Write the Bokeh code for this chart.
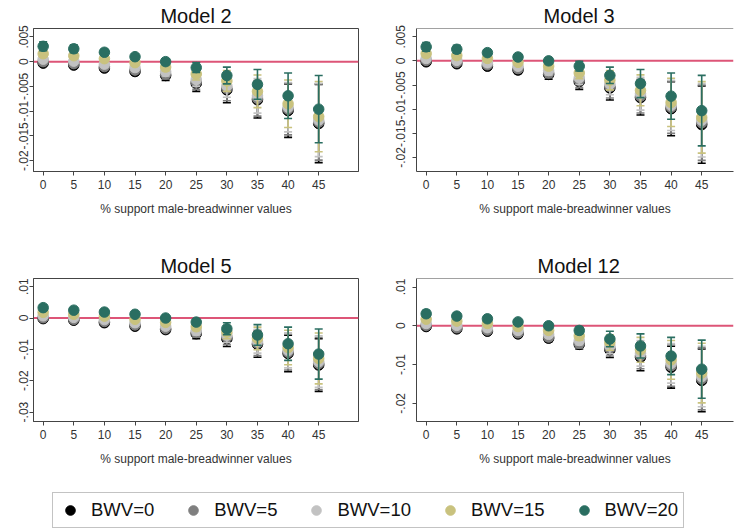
from bokeh.plotting import figure
from bokeh.layouts import column, row
from bokeh.models import Span, FixedTicker, Legend, LegendItem, ColumnDataSource, Range1d
from bokeh.embed import file_html
from bokeh.resources import INLINE

# ---------------- data ----------------
x_pct = [0, 5, 10, 15, 20, 25, 30, 35, 40, 45]
series_names = ["BWV=0", "BWV=5", "BWV=10", "BWV=15", "BWV=20"]
series_colors = ["#000000", "#7f7f7f", "#c2c2c2", "#c9c27e", "#2a6e61"]
x_label = "% support male-breadwinner values"

# Model 2 : point estimates and CI half-widths
m2_b0 = [-0.0003, -0.0007, -0.0013, -0.0020, -0.0028, -0.0044, -0.0057, -0.0077, -0.0099, -0.0125]
m2_b5 = [0.0000, -0.0004, -0.0010, -0.0017, -0.0025, -0.0041, -0.0054, -0.0074, -0.0096, -0.0122]
m2_b10 = [0.0005, 0.0001, -0.0005, -0.0012, -0.0020, -0.0036, -0.0049, -0.0069, -0.0092, -0.0118]
m2_b15 = [0.0016, 0.0012, 0.0006, -0.0002, -0.0011, -0.0025, -0.0039, -0.0060, -0.0085, -0.0111]
m2_b20 = [0.0031, 0.0026, 0.0019, 0.0010, 0.0000, -0.0012, -0.0028, -0.0046, -0.0069, -0.0096]
m2_hw0 = [0.0004, 0.0005, 0.0006, 0.0007, 0.0010, 0.0016, 0.0026, 0.0037, 0.0054, 0.0079]
m2_hw5 = [0.0004, 0.0005, 0.0006, 0.0007, 0.0010, 0.0015, 0.0025, 0.0036, 0.0052, 0.0077]
m2_hw10 = [0.0005, 0.0005, 0.0006, 0.0007, 0.0009, 0.0014, 0.0023, 0.0035, 0.0050, 0.0074]
m2_hw15 = [0.0007, 0.0006, 0.0006, 0.0006, 0.0008, 0.0012, 0.0021, 0.0033, 0.0048, 0.0071]
m2_hw20 = [0.0009, 0.0008, 0.0006, 0.0005, 0.0006, 0.0010, 0.0017, 0.0030, 0.0046, 0.0068]

# Model 3
m3_b0 = [-0.0002, -0.0006, -0.0011, -0.0019, -0.0028, -0.0043, -0.0056, -0.0076, -0.0099, -0.0132]
m3_b5 = [0.0001, -0.0003, -0.0008, -0.0016, -0.0025, -0.0040, -0.0053, -0.0073, -0.0096, -0.0128]
m3_b10 = [0.0005, 0.0001, -0.0004, -0.0011, -0.0020, -0.0035, -0.0048, -0.0068, -0.0092, -0.0123]
m3_b15 = [0.0015, 0.0011, 0.0005, -0.0003, -0.0011, -0.0025, -0.0040, -0.0061, -0.0086, -0.0117]
m3_b20 = [0.0029, 0.0024, 0.0017, 0.0008, 0.0000, -0.0011, -0.0030, -0.0047, -0.0073, -0.0103]
m3_hw0 = [0.0004, 0.0005, 0.0006, 0.0007, 0.0010, 0.0016, 0.0025, 0.0036, 0.0056, 0.0080]
m3_hw5 = [0.0004, 0.0005, 0.0006, 0.0007, 0.0010, 0.0015, 0.0024, 0.0035, 0.0054, 0.0078]
m3_hw10 = [0.0005, 0.0005, 0.0006, 0.0007, 0.0009, 0.0014, 0.0022, 0.0034, 0.0052, 0.0076]
m3_hw15 = [0.0007, 0.0006, 0.0006, 0.0006, 0.0008, 0.0012, 0.0020, 0.0032, 0.0050, 0.0074]
m3_hw20 = [0.0009, 0.0008, 0.0006, 0.0005, 0.0006, 0.0010, 0.0017, 0.0029, 0.0048, 0.0073]

# Model 5
m5_b0 = [-0.0002, -0.0007, -0.0015, -0.0026, -0.0037, -0.0050, -0.0066, -0.0084, -0.0113, -0.0150]
m5_b5 = [0.0001, -0.0004, -0.0011, -0.0022, -0.0033, -0.0046, -0.0061, -0.0080, -0.0109, -0.0145]
m5_b10 = [0.0007, 0.0002, -0.0005, -0.0015, -0.0026, -0.0040, -0.0055, -0.0074, -0.0103, -0.0139]
m5_b15 = [0.0018, 0.0012, 0.0006, -0.0004, -0.0014, -0.0028, -0.0045, -0.0065, -0.0094, -0.0129]
m5_b20 = [0.0033, 0.0025, 0.0019, 0.0012, 0.0000, -0.0013, -0.0034, -0.0054, -0.0082, -0.0115]
m5_hw0 = [0.0004, 0.0005, 0.0006, 0.0007, 0.0009, 0.0016, 0.0025, 0.0041, 0.0058, 0.0084]
m5_hw5 = [0.0004, 0.0005, 0.0006, 0.0007, 0.0009, 0.0015, 0.0024, 0.0040, 0.0057, 0.0083]
m5_hw10 = [0.0005, 0.0005, 0.0006, 0.0007, 0.0008, 0.0014, 0.0023, 0.0038, 0.0056, 0.0082]
m5_hw15 = [0.0007, 0.0006, 0.0006, 0.0006, 0.0007, 0.0012, 0.0021, 0.0036, 0.0055, 0.0081]
m5_hw20 = [0.0009, 0.0008, 0.0006, 0.0005, 0.0006, 0.0010, 0.0019, 0.0033, 0.0053, 0.0080]

# Model 12
m12_b0 = [-0.0002, -0.0008, -0.0014, -0.0021, -0.0032, -0.0048, -0.0062, -0.0081, -0.0107, -0.0141]
m12_b5 = [0.0001, -0.0005, -0.0011, -0.0018, -0.0029, -0.0045, -0.0058, -0.0077, -0.0103, -0.0137]
m12_b10 = [0.0006, 0.0001, -0.0005, -0.0012, -0.0022, -0.0038, -0.0052, -0.0071, -0.0097, -0.0131]
m12_b15 = [0.0017, 0.0012, 0.0006, -0.0002, -0.0012, -0.0026, -0.0043, -0.0062, -0.0088, -0.0122]
m12_b20 = [0.0031, 0.0025, 0.0018, 0.0010, 0.0000, -0.0012, -0.0034, -0.0052, -0.0078, -0.0112]
m12_hw0 = [0.0004, 0.0005, 0.0006, 0.0007, 0.0009, 0.0012, 0.0020, 0.0035, 0.0054, 0.0081]
m12_hw5 = [0.0004, 0.0005, 0.0006, 0.0007, 0.0009, 0.0012, 0.0020, 0.0034, 0.0053, 0.0080]
m12_hw10 = [0.0005, 0.0005, 0.0006, 0.0007, 0.0008, 0.0011, 0.0020, 0.0033, 0.0051, 0.0078]
m12_hw15 = [0.0007, 0.0006, 0.0006, 0.0006, 0.0007, 0.0011, 0.0020, 0.0032, 0.0050, 0.0077]
m12_hw20 = [0.0009, 0.0008, 0.0006, 0.0005, 0.0006, 0.0010, 0.0020, 0.0031, 0.0048, 0.0075]

# y ticks and labels
yt_small = [0.005, 0.0, -0.005, -0.01, -0.015, -0.02]
yl_small = [".005", "0", "-.005", "-.01", "-.015", "-.02"]
yt_m5 = [0.01, 0.0, -0.01, -0.02, -0.03]
yl_m5 = [".01", "0", "-.01", "-.02", "-.03"]
yt_m12 = [0.01, 0.0, -0.01, -0.02]
yl_m12 = [".01", "0", "-.01", "-.02"]

FONT = "Liberation Sans"
AX = "#444444"


def make_panel(title, means, hws, yrange, yticks, ylabels, left, top_row, title_offset=0):
    height = 250 if top_row else 229
    if left:
        mbl, mbr, xr = 33, 9, (-1.58, 51.5)
    else:
        mbl, mbr, xr = 49, 1, (-1.58, 50.19)
    p = figure(width=367, height=height, output_backend="svg", toolbar_location=None,
               x_range=Range1d(*xr), y_range=Range1d(*yrange),
               min_border_left=mbl, min_border_right=mbr, min_border_top=28,
               min_border_bottom=height - 28 - 143)
    p.grid.visible = False
    p.background_fill_color = "white"
    p.border_fill_color = "white"
    if left:
        p.outline_line_color = AX
    else:
        p.outline_line_color = None
        p.add_layout(Span(location=yrange[1], dimension="width", line_color=AX, line_width=1))
    p.title.text = title
    p.title.text_font = FONT
    p.title.text_font_size = "20px"
    p.title.text_font_style = "normal"
    p.title.text_color = "#111111"
    p.title.standoff = 4
    if left:
        p.title.align = "center"
    else:
        p.title.align = "left"
        p.title.offset = title_offset

    p.add_layout(Span(location=0, dimension="width", line_color="#dd5577", line_width=2, level="underlay"))

    for color, mean, hw in zip(series_colors, means, hws):
        lo = [m - h for m, h in zip(mean, hw)]
        hi = [m + h for m, h in zip(mean, hw)]
        src = ColumnDataSource(dict(x=x_pct, mean=mean, lo=lo, hi=hi))
        p.segment(x0="x", y0="lo", x1="x", y1="hi", source=src, line_color=color, line_width=1.6)
        p.scatter(x="x", y="lo", marker="dash", size=8, line_color=color, line_width=1.6, source=src)
        p.scatter(x="x", y="hi", marker="dash", size=8, line_color=color, line_width=1.6, source=src)
        p.scatter(x="x", y="mean", marker="circle", size=10.5, fill_color=color, line_color=color, source=src)

    xa = p.xaxis[0]
    xa.ticker = FixedTicker(ticks=x_pct)
    xa.axis_label = x_label
    xa.axis_label_text_font = FONT
    xa.axis_label_text_font_size = "12px"
    xa.axis_label_text_font_style = "normal"
    xa.axis_label_text_color = "#333333"
    xa.axis_label_standoff = 10
    xa.major_label_text_font = FONT
    xa.major_label_text_font_size = "12px"
    xa.major_label_text_color = "#333333"
    xa.major_label_standoff = 4

    ya = p.yaxis[0]
    ya.ticker = FixedTicker(ticks=yticks)
    ya.major_label_overrides = {t: l for t, l in zip(yticks, ylabels)}
    ya.major_label_orientation = "vertical"
    ya.major_label_text_font = FONT
    ya.major_label_text_font_size = "12px"
    ya.major_label_text_color = "#333333"
    ya.major_label_standoff = 1 if left else 7

    for ax in (xa, ya):
        ax.axis_line_color = AX
        ax.major_tick_line_color = AX
        ax.major_tick_out = 4
        ax.major_tick_in = 0
        ax.minor_tick_line_color = None
    return p


p2 = make_panel("Model 2", [m2_b0, m2_b5, m2_b10, m2_b15, m2_b20],
                [m2_hw0, m2_hw5, m2_hw10, m2_hw15, m2_hw20],
                (-0.0222, 0.0067), yt_small, yl_small, True, True)
p3 = make_panel("Model 3", [m3_b0, m3_b5, m3_b10, m3_b15, m3_b20],
                [m3_hw0, m3_hw5, m3_hw10, m3_hw15, m3_hw20],
                (-0.0229, 0.0067), yt_small, yl_small, False, True, title_offset=127)
p5 = make_panel("Model 5", [m5_b0, m5_b5, m5_b10, m5_b15, m5_b20],
                [m5_hw0, m5_hw5, m5_hw10, m5_hw15, m5_hw20],
                (-0.0330, 0.0126), yt_m5, yl_m5, True, False)
p12 = make_panel("Model 12", [m12_b0, m12_b5, m12_b10, m12_b15, m12_b20],
                 [m12_hw0, m12_hw5, m12_hw10, m12_hw15, m12_hw20],
                 (-0.0247, 0.0122), yt_m12, yl_m12, False, False, title_offset=121)

# legend strip (placeholder glyphs sit outside the visible range; only the legend shows)
leg = figure(width=734, height=50, output_backend="svg", toolbar_location=None,
             x_range=Range1d(0, 1), y_range=Range1d(0, 1), x_axis_type=None, y_axis_type=None,
             min_border=0)
leg.grid.visible = False
leg.outline_line_color = None
items = []
for name, color in zip(series_names, series_colors):
    r = leg.scatter(x=[-5], y=[-5], marker="circle", size=10, fill_color=color, line_color=color)
    items.append(LegendItem(label=name, renderers=[r]))
legend = Legend(items=items, orientation="horizontal", location=(52, 1),
                label_text_font=FONT, label_text_font_size="18.5px", label_text_color="#111111",
                glyph_width=24, glyph_height=24, label_standoff=9, spacing=27, padding=5,
                margin=0, border_line_color="#888888", border_line_width=1,
                background_fill_color="white", background_fill_alpha=1.0)
leg.add_layout(legend, "center")

layout = column(row(p2, p3), row(p5, p12), leg)

with open("out.html", "w") as f:
    f.write(file_html(layout, INLINE))
